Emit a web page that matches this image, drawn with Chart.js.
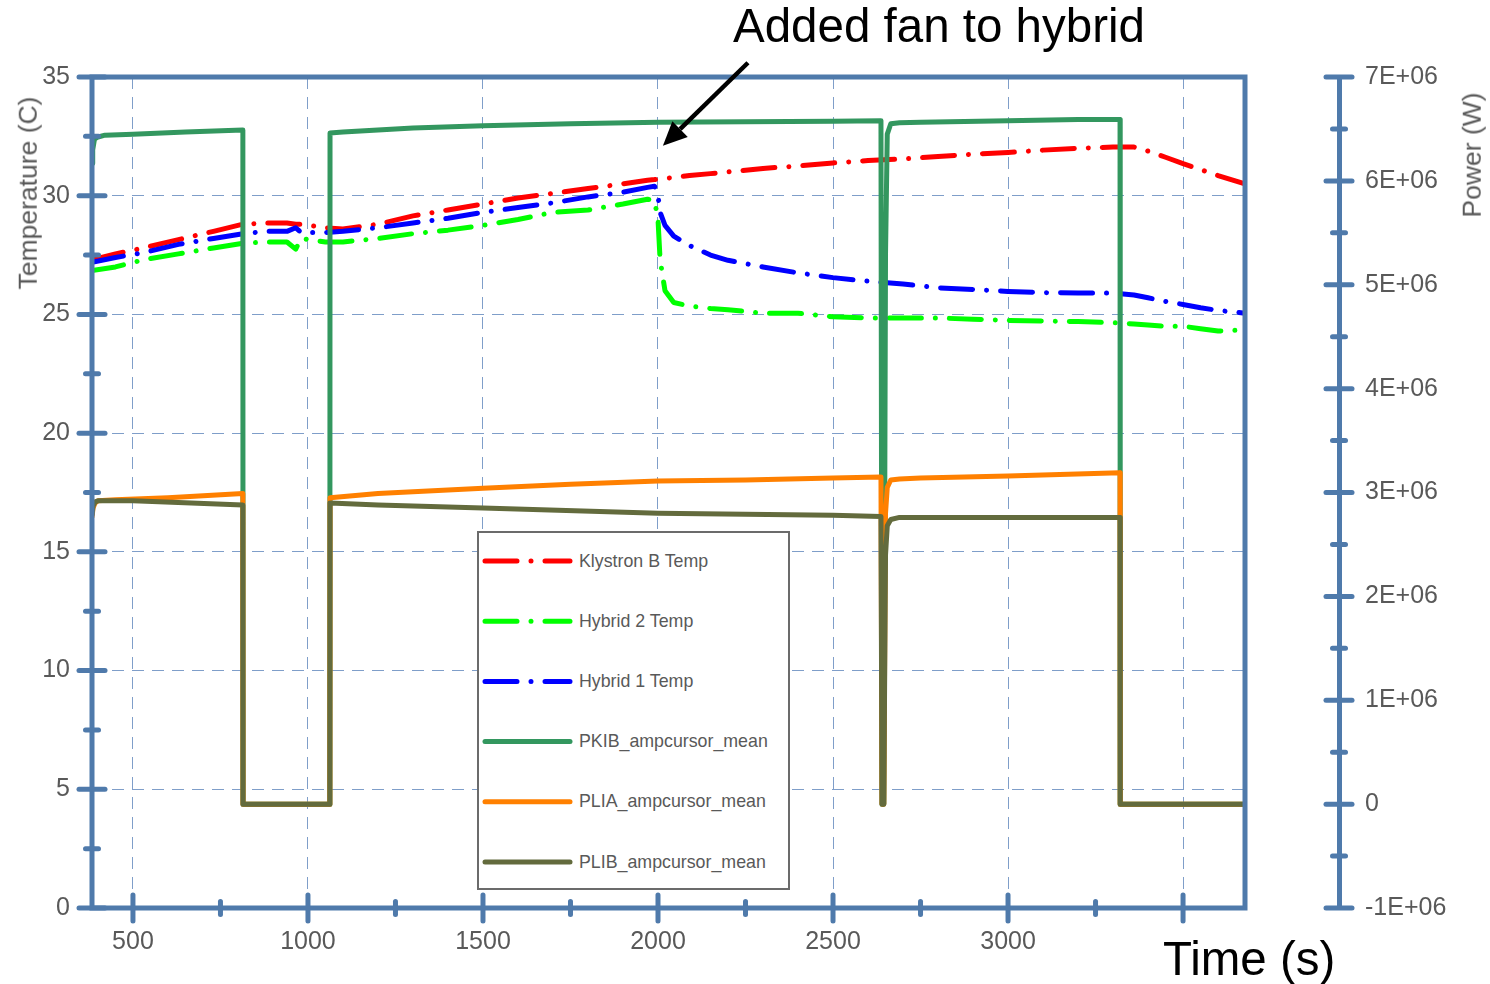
<!DOCTYPE html>
<html>
<head>
<meta charset="utf-8">
<script src="https://cdn.jsdelivr.net/npm/chart.js@4.4.1/dist/chart.umd.min.js"></script>
<style>
  body { margin: 0; background: #fff; overflow: hidden; }
  #wrap { position: relative; width: 1490px; height: 984px; font-family: 'Liberation Sans', Arial, sans-serif; color: #595959; }
  #chart { position: absolute; left: 0; top: 0; }
  .note { position: absolute; color: #000; font-size: 47.5px; line-height: 1; white-space: nowrap; }
  .axis-title { position: absolute; font-size: 26.5px; line-height: 1; white-space: nowrap; transform: translate(-50%, -50%) rotate(-90deg); }
  #legend { position: absolute; left: 477px; top: 531px; width: 313px; height: 359px; box-sizing: border-box; border: 2.5px solid #6b6b6b; background: #fff; }
  #legend svg { position: absolute; left: 0; top: 0; }
  #legend span { position: absolute; left: 100px; font-size: 17.8px; line-height: 1; white-space: nowrap; }
</style>
</head>
<body>
<div id="wrap">
  <canvas id="chart" width="1490" height="984"></canvas>
  <div class="note" style="left:733px; top:2px;">Added fan to hybrid</div>
  <div class="note" style="left:1163px; top:935px;">Time (s)</div>
  <div class="axis-title" style="left:28px; top:193px;">Temperature (C)</div>
  <div class="axis-title" style="left:1472px; top:155px;">Power (W)</div>
  <div id="legend"></div>
</div>
<script>
// temperature readings (s, deg C)
const tempTime = [383, 450, 530, 630, 730, 814, 880, 940, 965, 980, 1050, 1100, 1200, 1300, 1400, 1500, 1600, 1700, 1800, 1900,
  1970, 1990, 2000, 2006, 2020, 2045, 2090, 2150, 2200, 2300, 2400, 2500, 2600, 2700, 2800, 2900, 3000, 3100, 3200, 3300,
  3360, 3400, 3450, 3500, 3550, 3600, 3677];
const klystronB = [27.3, 27.55, 27.8, 28.15, 28.5, 28.8, 28.85, 28.85, 28.8, 28.8, 28.65, 28.6, 28.8, 29.15, 29.4, 29.65, 29.9, 30.1, 30.3, 30.5,
  30.65, 30.68, 30.7, 30.71, 30.73, 30.77, 30.85, 30.93, 31.0, 31.15, 31.25, 31.38, 31.48, 31.55, 31.65, 31.75, 31.82, 31.92, 32.0, 32.05,
  32.05, 31.88, 31.62, 31.35, 31.1, 30.85, 30.5];
const hybrid2 = [26.85, 27.0, 27.3, 27.55, 27.8, 28.0, 28.05, 28.05, 27.75, 28.2, 28.05, 28.05, 28.2, 28.4, 28.55, 28.75, 29.0, 29.3, 29.4, 29.65,
  29.85, 29.8, 29.0, 27.3, 26.0, 25.5, 25.35, 25.25, 25.2, 25.05, 25.05, 24.9, 24.85, 24.85, 24.85, 24.8, 24.75, 24.72, 24.7, 24.65,
  24.6, 24.55, 24.5, 24.5, 24.4, 24.3, 24.35];
const hybrid1 = [27.2, 27.4, 27.6, 27.95, 28.2, 28.4, 28.5, 28.5, 28.65, 28.45, 28.45, 28.5, 28.65, 28.85, 29.05, 29.3, 29.5, 29.7, 29.95, 30.15,
  30.35, 30.4, 30.0, 29.3, 28.75, 28.3, 27.9, 27.5, 27.28, 27.0, 26.75, 26.55, 26.4, 26.28, 26.12, 26.05, 25.97, 25.92, 25.9, 25.9,
  25.82, 25.7, 25.55, 25.42, 25.28, 25.17, 25.05];

// power readings (s, W)
const pkibTime = [383, 385, 390, 398, 420, 500, 650, 814, 814.5, 1062.5, 1063, 1100, 1300, 1500, 1750, 2000, 2250, 2500, 2637, 2640,
  2645, 2650, 2655, 2665, 2690, 2750, 3000, 3200, 3320, 3320.5, 3677];
const pkibPower = [6.17e6, 6.30e6, 6.40e6, 6.42e6, 6.44e6, 6.45e6, 6.47e6, 6.49e6, 0, 0, 6.46e6, 6.47e6, 6.51e6, 6.53e6, 6.55e6, 6.565e6, 6.57e6, 6.575e6, 6.58e6, 0,
  0, 5.3e6, 6.45e6, 6.55e6, 6.56e6, 6.565e6, 6.58e6, 6.59e6, 6.59e6, 0, 0];
const pliaTime = [383, 386, 392, 400, 450, 600, 814, 814.5, 1062.5, 1063, 1200, 1500, 1750, 2000, 2250, 2500, 2637, 2640, 2645, 2650,
  2655, 2665, 2690, 2750, 3000, 3320, 3320.5, 3677];
const pliaPower = [2.76e6, 2.85e6, 2.90e6, 2.92e6, 2.93e6, 2.95e6, 2.99e6, 0, 0, 2.95e6, 2.99e6, 3.04e6, 3.08e6, 3.11e6, 3.12e6, 3.14e6, 3.15e6, 0, 0, 2.8e6,
  3.05e6, 3.12e6, 3.13e6, 3.14e6, 3.16e6, 3.19e6, 0, 0];
const plibTime = [383, 386, 392, 400, 500, 814, 814.5, 1062.5, 1063, 1200, 1500, 2000, 2500, 2637, 2640, 2645, 2650, 2655, 2665, 2690,
  3000, 3320, 3320.5, 3677];
const plibPower = [2.78e6, 2.87e6, 2.91e6, 2.92e6, 2.92e6, 2.88e6, 0, 0, 2.90e6, 2.88e6, 2.85e6, 2.80e6, 2.78e6, 2.77e6, 0, 0, 2.4e6, 2.68e6, 2.74e6, 2.76e6,
  2.76e6, 2.76e6, 0, 0];

// ticks and tick labels
const timeTicks = [500, 750, 1000, 1250, 1500, 1750, 2000, 2250, 2500, 2750, 3000, 3250, 3500];
const timeLabels = [500, 1000, 1500, 2000, 2500, 3000];
const tempLabels = [0, 5, 10, 15, 20, 25, 30, 35];
const powerTickValues = [-1e6, 0, 1e6, 2e6, 3e6, 4e6, 5e6, 6e6, 7e6];
const powerTickLabels = ['-1E+06', '0', '1E+06', '2E+06', '3E+06', '4E+06', '5E+06', '6E+06', '7E+06'];

const seriesNames = ['Klystron B Temp', 'Hybrid 2 Temp', 'Hybrid 1 Temp', 'PKIB_ampcursor_mean', 'PLIA_ampcursor_mean', 'PLIB_ampcursor_mean'];
const seriesColors = ['#ff0000', '#00ff00', '#0000ff', '#33975f', '#ff8000', '#636b3d'];

const axisColor = '#4f7aab';
const gridColor = '#7f9ec9';
const textColor = '#595959';
const dashDot = [32, 14, 0.01, 14];

Chart.defaults.font.family = "'Liberation Sans', Arial, sans-serif";
Chart.defaults.font.size = 25;
Chart.defaults.color = textColor;

function pts(t, v) {
  return t.map((x, i) => ({x: x, y: v[i]}));
}

function tempSet(i, values, order) {
  return {
    label: seriesNames[i], data: pts(tempTime, values), yAxisID: 'y',
    borderColor: seriesColors[i], borderWidth: 5, borderDash: dashDot,
    borderCapStyle: 'round', borderJoinStyle: 'round', pointRadius: 0, tension: 0, order: order
  };
}

function powerSet(i, t, values, order) {
  return {
    label: seriesNames[i], data: pts(t, values), yAxisID: 'y2',
    borderColor: seriesColors[i], borderWidth: 5,
    borderJoinStyle: 'round', pointRadius: 0, tension: 0, order: order
  };
}

// frame round the plot, ticks that cross the axes, and the arrow
const axisTicks = {
  id: 'axisTicks',
  afterDatasetsDraw(chart) {
    const {ctx, chartArea: a, scales} = chart;
    ctx.save();
    ctx.strokeStyle = axisColor;
    ctx.lineWidth = 5;
    ctx.strokeRect(a.left, a.top, a.right - a.left, a.bottom - a.top);
    ctx.lineCap = 'round';
    function tick(x1, y1, x2, y2) {
      ctx.beginPath(); ctx.moveTo(x1, y1); ctx.lineTo(x2, y2); ctx.stroke();
    }
    scales.x.ticks.forEach(t => {
      const px = scales.x.getPixelForValue(t.value);
      const h = t.value % 500 === 0 ? 13 : 6.5;
      tick(px, a.bottom - h, px, a.bottom + h);
    });
    scales.y.ticks.forEach(t => {
      const py = scales.y.getPixelForValue(t.value);
      const h = t.value % 5 === 0 ? 13 : 6.5;
      tick(a.left - h, py, a.left + h, py);
    });
    const rx = scales.y2.left;
    scales.y2.ticks.forEach(t => {
      const py = scales.y2.getPixelForValue(t.value);
      const h = t.value % 1e6 === 0 ? 13 : 6.5;
      tick(rx - h, py, rx + h, py);
    });

    // arrow pointing at the fan change
    const tx = scales.x.getPixelForValue(2014), ty = scales.y.getPixelForValue(32.1);
    const sx = scales.x.getPixelForValue(2257), sy = scales.y.getPixelForValue(35.6);
    const ang = Math.atan2(ty - sy, tx - sx);
    const len = 24, half = 11;
    const bx = tx - len * Math.cos(ang), by = ty - len * Math.sin(ang);
    ctx.strokeStyle = '#000';
    ctx.fillStyle = '#000';
    ctx.lineWidth = 4.5;
    ctx.lineCap = 'butt';
    tick(sx, sy, bx, by);
    ctx.beginPath();
    ctx.moveTo(tx, ty);
    ctx.lineTo(bx + half * Math.sin(ang), by - half * Math.cos(ang));
    ctx.lineTo(bx - half * Math.sin(ang), by + half * Math.cos(ang));
    ctx.closePath();
    ctx.fill();
    ctx.restore();
  }
};

const chart = new Chart(document.getElementById('chart'), {
  type: 'line',
  data: {
    datasets: [
      tempSet(0, klystronB, 6),
      tempSet(1, hybrid2, 5),
      tempSet(2, hybrid1, 4),
      powerSet(3, pkibTime, pkibPower, 3),
      powerSet(4, pliaTime, pliaPower, 2),
      powerSet(5, plibTime, plibPower, 1)
    ]
  },
  options: {
    responsive: false,
    animation: false,
    layout: { padding: { left: 0, top: 77, right: 41, bottom: 0 } },
    plugins: { legend: { display: false }, tooltip: { enabled: false } },
    scales: {
      x: {
        type: 'linear', min: 383, max: 3677,
        afterBuildTicks: s => { s.ticks = timeTicks.map(v => ({value: v})); },
        ticks: {
          autoSkip: false, maxRotation: 0, padding: 19,
          callback: v => timeLabels.includes(v) ? String(v) : ''
        },
        grid: { color: c => (c.tick && c.tick.value % 500 === 0) ? gridColor : 'rgba(0,0,0,0)', lineWidth: 1, drawTicks: false },
        border: { display: false, dash: [12, 8] },
        afterFit: s => { s.height = 76; }
      },
      y: {
        type: 'linear', position: 'left', min: 0, max: 35,
        ticks: {
          stepSize: 2.5, autoSkip: false, padding: 22,
          callback: v => tempLabels.includes(v) ? String(v) : ''
        },
        grid: { color: c => (c.tick && c.tick.value % 5 === 0 && c.tick.value > 0 && c.tick.value < 35) ? gridColor : 'rgba(0,0,0,0)', lineWidth: 1, drawTicks: false },
        border: { display: false, dash: [12, 8] },
        afterFit: s => { s.width = 92; }
      },
      gap: {
        type: 'linear', position: 'right', weight: 0,
        ticks: { display: false },
        grid: { display: false, drawTicks: false },
        border: { display: false },
        afterFit: s => { s.width = 94; }
      },
      y2: {
        type: 'linear', position: 'right', weight: 1, min: -1e6, max: 7e6,
        ticks: {
          stepSize: 5e5, autoSkip: false, padding: 26,
          callback: v => { const k = powerTickValues.indexOf(v); return k >= 0 ? powerTickLabels[k] : ''; }
        },
        grid: { drawOnChartArea: false, drawTicks: false },
        border: { display: true, color: axisColor, width: 5 },
        afterFit: s => { s.width = 110; }
      }
    }
  },
  plugins: [axisTicks]
});

// legend box drawn over the plot
const legendBox = document.getElementById('legend');
const svgNS = 'http://www.w3.org/2000/svg';
const svg = document.createElementNS(svgNS, 'svg');
svg.setAttribute('width', '308');
svg.setAttribute('height', '354');
legendBox.appendChild(svg);
seriesNames.forEach((name, i) => {
  const cy = 28 + i * 60.2;
  const line = document.createElementNS(svgNS, 'line');
  line.setAttribute('x1', '6');
  line.setAttribute('x2', '91');
  line.setAttribute('y1', cy);
  line.setAttribute('y2', cy);
  line.setAttribute('stroke', seriesColors[i]);
  line.setAttribute('stroke-width', '5');
  line.setAttribute('stroke-linecap', 'round');
  if (i < 3) line.setAttribute('stroke-dasharray', dashDot.join(' '));
  svg.appendChild(line);
  const label = document.createElement('span');
  label.textContent = name;
  label.style.top = (cy - 8.5) + 'px';
  legendBox.appendChild(label);
});
</script>
</body>
</html>
